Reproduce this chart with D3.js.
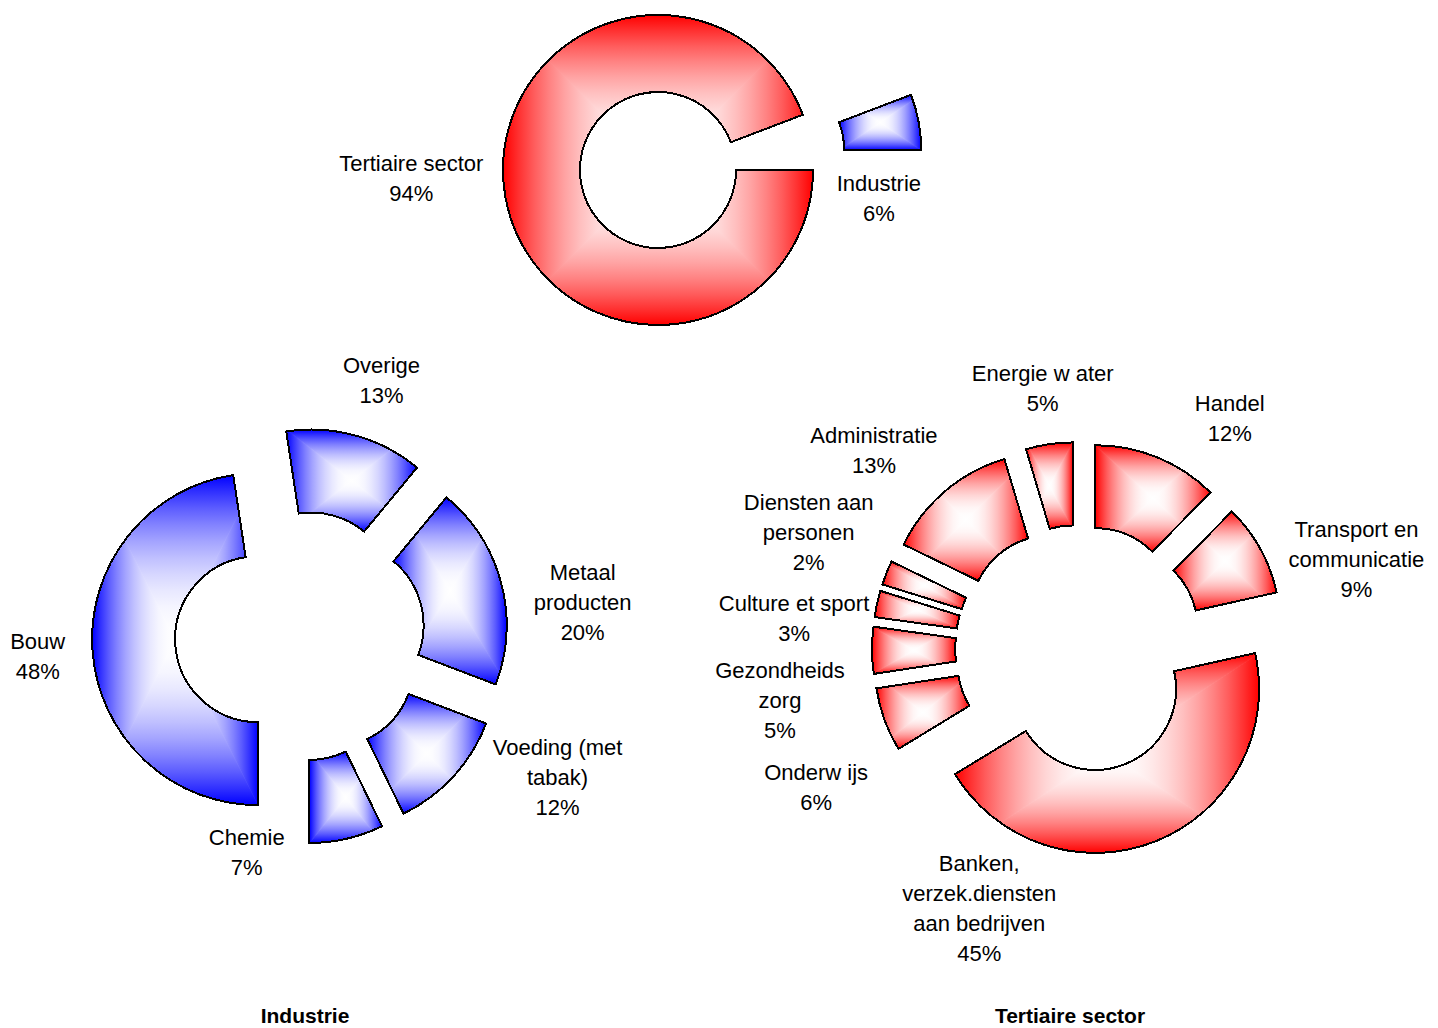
<!DOCTYPE html>
<html>
<head>
<meta charset="utf-8">
<script src="https://cdn.jsdelivr.net/npm/d3@7"></script>
<style>
  body { margin: 0; background: #fff; }
  text { font-family: "Liberation Sans", Arial, sans-serif; font-size: 22px; fill: #000; }
  .title { font-weight: bold; font-size: 21px; }
</style>
</head>
<body>
<svg id="chart" width="1438" height="1028"></svg>
<script>
// data
var sectorNames = ['Tertiaire sector', 'Industrie'];
var sectorValues = [94.2, 5.8];

var industryNames = ['Bouw', 'Overige', 'Metaal\nproducten', 'Voeding (met\ntabak)', 'Chemie'];
var industryValues = [47.6, 13.4, 19.8, 12.0, 7.2];

var tertiaryNames = ['Handel', 'Transport en\ncommunicatie', 'Banken,\nverzek.diensten\naan bedrijven',
  'Onderw ijs', 'Gezondheids\nzorg', 'Culture et sport', 'Diensten aan\npersonen',
  'Administratie', 'Energie w ater'];
var tertiaryValues = [12.4, 9.1, 44.8, 6.3, 4.6, 2.6, 2.4, 13.2, 4.6];

var chartTitles = ['Industrie', 'Tertiaire sector'];

var RED = '#ff0000', BLUE = '#0000ff';

// layout (positions, sizes, label nudges)
var charts = [
  { names: sectorNames, values: sectorValues, colors: [RED, BLUE],
    cx: 658, cy: 170, outer: 155, inner: 78, start: Math.PI / 2,
    explode: [0, 110], nudge: [[-50, -28], [-84, 84]] },
  { names: industryNames, values: industryValues, colors: [BLUE],
    cx: 300, cy: 636, outer: 166, inner: 83, start: Math.PI,
    explode: [42], nudge: [[-10, 1], [14, -12], [38, 31], [71, -30], [-110, -30]],
    title: chartTitles[0], titleX: 305 },
  { names: tertiaryNames, values: tertiaryValues, colors: [RED],
    cx: 1079, cy: 649, outer: 164, inner: 81, start: 0,
    explode: [43],
    nudge: [[55, 2], [57, 32], [-194, 26], [-26, 52], [-47, 50], [-39, 24], [-36, -24], [-42, -7], [0, -11]],
    title: chartTitles[1], titleX: 1070 }
];
var titleY = 1023;
var lineH = 30;

var svg = d3.select('#chart');
var defs = svg.append('defs');

// box ("from centre") gradient built from four linear gradients per colour
function gradId(color, side) { return 'g' + color.slice(1) + side; }
[RED, BLUE].forEach(function(color) {
  var mix = d3.interpolateRgb('#ffffff', color);
  var dirs = { top: [0, 0, 0, 1], bottom: [0, 1, 0, 0], left: [0, 0, 1, 0], right: [1, 0, 0, 0] };
  Object.keys(dirs).forEach(function(side) {
    var v = dirs[side];
    var grad = defs.append('linearGradient')
      .attr('id', gradId(color, side))
      .attr('x1', v[0]).attr('y1', v[1]).attr('x2', v[2]).attr('y2', v[3]);
    d3.range(0, 1.0001, 0.1).forEach(function(o) {
      grad.append('stop').attr('offset', o).attr('stop-color', mix(Math.pow(1 - o, 2)));
    });
  });
});

var clipCount = 0;

charts.forEach(function(ch) {
  var pie = d3.pie().sort(null).value(function(d) { return d; })
    .startAngle(ch.start).endAngle(ch.start + 2 * Math.PI);
  var arcs = pie(ch.values);
  var total = d3.sum(ch.values);
  var arc = d3.arc().innerRadius(ch.inner).outerRadius(ch.outer);

  arcs.forEach(function(a, i) {
    var mid = (a.startAngle + a.endAngle) / 2;
    var dx = Math.sin(mid), dy = -Math.cos(mid);
    var ex = ch.explode[i % ch.explode.length];
    var sx = ch.cx + ex * dx, sy = ch.cy + ex * dy;
    var color = ch.colors[i % ch.colors.length];
    var pathD = arc(a);

    var g = svg.append('g').attr('transform', 'translate(' + sx + ',' + sy + ')');
    var clipId = 'clip' + (clipCount++);
    defs.append('clipPath').attr('id', clipId).append('path').attr('d', pathD);

    var fill = g.append('g').attr('clip-path', 'url(#' + clipId + ')');
    var outline = g.append('path')
      .attr('d', pathD)
      .attr('fill', 'none')
      .attr('stroke', '#000')
      .attr('stroke-width', 2)
      .attr('stroke-linejoin', 'miter')
      .attr('shape-rendering', 'crispEdges');

    var bb = outline.node().getBBox();
    var x0 = bb.x, y0 = bb.y, x1 = bb.x + bb.width, y1 = bb.y + bb.height;
    var mx = (x0 + x1) / 2, my = (y0 + y1) / 2;
    var tris = [
      ['top', [[x0, y0], [x1, y0], [mx, my]]],
      ['bottom', [[x0, y1], [x1, y1], [mx, my]]],
      ['left', [[x0, y0], [x0, y1], [mx, my]]],
      ['right', [[x1, y0], [x1, y1], [mx, my]]]
    ];
    tris.forEach(function(t) {
      fill.append('path')
        .attr('d', 'M' + t[1].join('L') + 'Z')
        .attr('fill', 'url(#' + gradId(color, t[0]) + ')')
        .attr('stroke', 'url(#' + gradId(color, t[0]) + ')')
        .attr('stroke-width', 0.8);
    });

    // label
    var lines = ch.names[i].split('\n');
    lines.push(Math.round(a.value / total * 100) + '%');
    var lx = sx + dx * (ch.outer + 45) + ch.nudge[i][0];
    var ly = sy + dy * (ch.outer + 45) + ch.nudge[i][1];
    var label = svg.append('text').attr('text-anchor', 'middle');
    lines.forEach(function(line, k) {
      label.append('tspan')
        .attr('x', lx)
        .attr('y', ly + (k - (lines.length - 1) / 2) * lineH)
        .attr('dy', '0.35em')
        .text(line);
    });
  });

  if (ch.title) {
    svg.append('text')
      .attr('class', 'title')
      .attr('x', ch.titleX)
      .attr('y', titleY)
      .attr('text-anchor', 'middle')
      .text(ch.title);
  }
});
</script>
</body>
</html>
